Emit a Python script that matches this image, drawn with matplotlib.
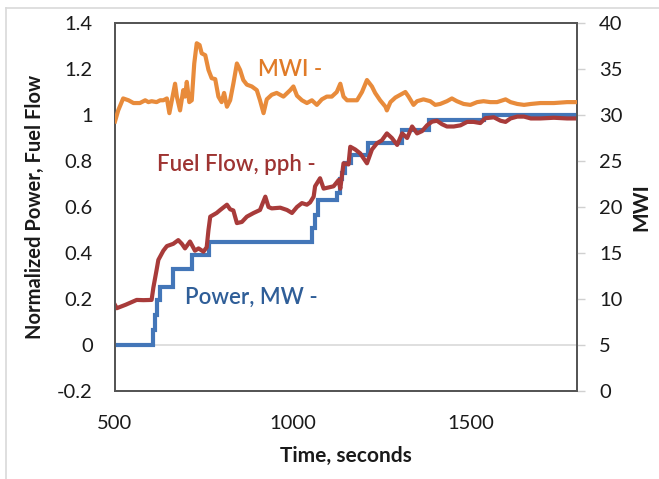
import matplotlib
matplotlib.use("Agg")
import matplotlib.pyplot as plt
from matplotlib.lines import Line2D

# ---------------- data ----------------
power_t = [500, 608, 612, 619, 627, 664, 718, 765, 1055, 1062, 1070, 1125, 1133,
           1140, 1148, 1165, 1213, 1308, 1383, 1537, 1800]
power_v = [0.0, 0.065, 0.13, 0.196, 0.254, 0.33, 0.39, 0.45, 0.51, 0.565, 0.63, 0.66,
           0.72, 0.75, 0.79, 0.826, 0.88, 0.935, 0.978, 1.0, 1.0]

fuel_t = [500, 505, 530, 561, 580, 603, 608, 617, 622, 636, 646, 664, 678, 688, 697,
          711, 725, 735, 749, 758, 763, 768, 786, 796, 815, 824, 833, 843, 857, 871,
          890, 908, 923, 932, 941, 965, 984, 998, 1012, 1026, 1040, 1049, 1059, 1063,
          1077, 1087, 1101, 1115, 1129, 1134, 1143, 1157, 1162, 1176, 1190, 1209,
          1223, 1237, 1251, 1265, 1279, 1294, 1308, 1322, 1336, 1350, 1364, 1378,
          1392, 1406, 1420, 1434, 1453, 1472, 1491, 1509, 1528, 1542, 1566, 1585,
          1599, 1613, 1632, 1651, 1670, 1697, 1735, 1772, 1800]
fuel_v = [0.174, 0.16, 0.175, 0.196, 0.195, 0.196, 0.25, 0.326, 0.37, 0.41, 0.43,
          0.44, 0.456, 0.44, 0.42, 0.45, 0.41, 0.42, 0.406, 0.425, 0.5, 0.558, 0.574,
          0.587, 0.61, 0.59, 0.585, 0.53, 0.535, 0.558, 0.574, 0.587, 0.645, 0.6,
          0.594, 0.597, 0.587, 0.574, 0.6, 0.617, 0.61, 0.62, 0.645, 0.69, 0.725,
          0.68, 0.685, 0.69, 0.717, 0.68, 0.79, 0.785, 0.862, 0.85, 0.833, 0.79,
          0.85, 0.877, 0.89, 0.92, 0.9, 0.87, 0.92, 0.9, 0.95, 0.92, 0.93, 0.955,
          0.971, 0.975, 0.96, 0.95, 0.95, 0.955, 0.97, 0.97, 0.965, 0.986, 0.99,
          0.975, 0.97, 0.985, 0.993, 0.993, 0.985, 0.985, 0.988, 0.985, 0.985]

mwi_t = [500, 509, 523, 538, 552, 570, 585, 594, 603, 617, 627, 636, 646, 653, 660,
         669, 674, 683, 692, 697, 702, 709, 716, 723, 730, 738, 744, 754, 763, 772,
         782, 791, 800, 807, 815, 824, 833, 843, 852, 861, 871, 885, 899, 908, 918,
         927, 941, 955, 974, 993, 1002, 1012, 1026, 1040, 1054, 1068, 1082, 1096,
         1110, 1124, 1134, 1143, 1153, 1167, 1181, 1195, 1209, 1223, 1232, 1246,
         1261, 1265, 1275, 1289, 1303, 1317, 1326, 1340, 1350, 1368, 1387, 1401,
         1415, 1434, 1448, 1462, 1481, 1500, 1519, 1537, 1556, 1575, 1599, 1613,
         1632, 1651, 1670, 1697, 1735, 1772, 1800]
mwi_v = [29.3, 30.5, 31.8, 31.6, 31.3, 31.3, 31.6, 31.4, 31.5, 31.4, 31.6, 31.6,
         31.8, 30.2, 31.6, 33.4, 32.0, 30.5, 32.7, 32.0, 33.6, 31.4, 31.6, 35.6,
         37.8, 37.6, 36.7, 36.5, 34.9, 34.0, 33.9, 32.0, 31.4, 32.4, 30.9, 31.6,
         33.4, 35.6, 34.9, 33.8, 33.3, 33.1, 32.7, 31.6, 30.2, 31.7, 32.2, 32.4,
         32.0, 32.7, 33.1, 32.1, 31.6, 31.3, 31.6, 31.1, 31.7, 32.0, 32.0, 32.5,
         33.4, 32.0, 31.6, 31.6, 31.6, 32.5, 33.8, 33.1, 32.4, 31.6, 30.9, 30.5,
         31.4, 31.9, 32.2, 32.5, 32.0, 31.1, 31.5, 31.7, 31.5, 31.1, 31.2, 31.5,
         31.8, 31.5, 31.2, 31.1, 31.4, 31.5, 31.4, 31.4, 31.7, 31.4, 31.2, 31.1,
         31.2, 31.3, 31.3, 31.4, 31.4]

xticks = [500, 1000, 1500]
left_ticks = [-0.2, 0, 0.2, 0.4, 0.6, 0.8, 1.0, 1.2, 1.4]
left_labels = ["-0.2", "0", "0.2", "0.4", "0.6", "0.8", "1", "1.2", "1.4"]
right_ticks = [0, 5, 10, 15, 20, 25, 30, 35, 40]

# ---------------- style ----------------
plt.rcParams['font.family'] = ['Lato', 'DejaVu Sans']
BLUE = '#4376B8'
RED = '#A83B3A'
ORANGE = '#E88B3B'
TXT = '#1a1a1a'
SPINE = '#555555'
TICKFS = 14.5

fig = plt.figure(figsize=(6.59, 4.79), dpi=100)
ax = fig.add_axes([115/659, 1-391/479, 462/659, 368/479])
ax2 = ax.twinx()

# zero line (Excel horizontal axis)
ax.axhline(0, color='#d9d9d9', lw=1.2, zorder=1)

ax.plot(power_t, power_v, drawstyle='steps-post', color=BLUE, lw=3.0,
        solid_joinstyle='miter', zorder=3)
ax.plot(fuel_t, fuel_v, color=RED, lw=3.0, zorder=4)
ax2.plot(mwi_t, mwi_v, color=ORANGE, lw=3.0, zorder=4)

ax.set_xlim(500, 1800)
ax.set_ylim(-0.2, 1.4)
ax2.set_ylim(0, 40)

ax.set_xticks(xticks)
ax.set_xticklabels([str(v) for v in xticks])
ax.set_yticks(left_ticks)
ax.set_yticklabels(left_labels)
ax2.set_yticks(right_ticks)
ax2.set_yticklabels([str(v) for v in right_ticks])

ax.tick_params(axis='x', length=0, pad=17, labelsize=TICKFS, labelcolor=TXT)
ax.tick_params(axis='y', length=0, pad=16, labelsize=TICKFS, labelcolor=TXT)
ax2.tick_params(axis='y', length=6, width=1.0, color='#d0d0d0', pad=10,
                labelsize=TICKFS, labelcolor=TXT)

for a in (ax, ax2):
    for s in a.spines.values():
        s.set_color(SPINE)
        s.set_linewidth(1.3)

ax.set_xlabel('Time, seconds', fontsize=15, fontweight='bold', color=TXT, labelpad=10)
ax.set_ylabel('Normalized Power, Fuel Flow', fontsize=14.5, fontweight='bold',
              color=TXT, labelpad=9)
ax2.set_ylabel('MWI', fontsize=15, fontweight='bold', color=TXT, labelpad=6)

ax.text(903, 1.196, 'MWI -', color='#E07B28', fontsize=16, fontweight='semibold',
        va='center', ha='left')
ax.text(618, 0.783, 'Fuel Flow, pph -', color='#9E3432', fontsize=16,
        fontweight='semibold', va='center', ha='left')
ax.text(697, 0.209, 'Power, MW -', color='#2F5E98', fontsize=16,
        fontweight='semibold', va='center', ha='left')

# chart-area border
fig.add_artist(Line2D([6/659, 6/659], [0, 1-8/479], transform=fig.transFigure,
                      color='#d9d9d9', lw=1.2))
fig.add_artist(Line2D([6/659, 1], [1-8/479, 1-8/479], transform=fig.transFigure,
                      color='#d9d9d9', lw=1.2))

fig.savefig('out.png', dpi=100)
